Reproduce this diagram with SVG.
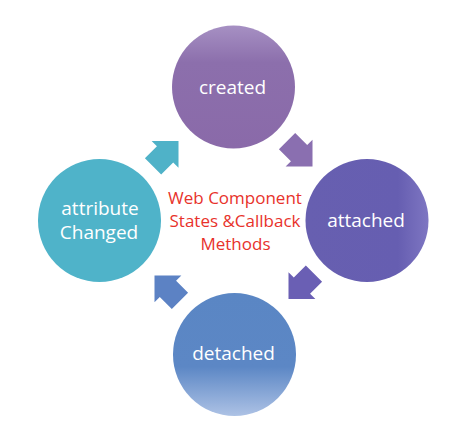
<svg xmlns="http://www.w3.org/2000/svg" width="460" height="428" viewBox="0 0 460 428">
<defs>
<linearGradient id="gCreated" x1="0" y1="0" x2="0" y2="1">
<stop offset="0" stop-color="#a690c3"/>
<stop offset="0.3" stop-color="#8c6fac"/>
<stop offset="1" stop-color="#8a6aa9"/>
</linearGradient>
<linearGradient id="gAttached" x1="0" y1="0" x2="1" y2="0">
<stop offset="0" stop-color="#675fb0"/>
<stop offset="0.75" stop-color="#665eb1"/>
<stop offset="1" stop-color="#7e76c2"/>
</linearGradient>
<linearGradient id="gDetached" x1="0" y1="0" x2="0" y2="1">
<stop offset="0" stop-color="#5a86c4"/>
<stop offset="0.6" stop-color="#5c87c5"/>
<stop offset="1" stop-color="#adc2e5"/>
</linearGradient>
<path id="arrow" d="M0,0 L-19,-19 L-19,-11.5 L-36,-11.5 L-36,11.5 L-19,11.5 L-19,19 Z"/>
</defs>
<style>
.node text{font-family:"Open Sans","DejaVu Sans",sans-serif;font-size:19px;fill:#ffffff;text-anchor:middle}
.title text{font-family:"Open Sans","DejaVu Sans",sans-serif;font-size:17px;fill:#e8322b;text-anchor:middle}
</style>
<rect width="460" height="428" fill="#ffffff"/>
<g id="connectors">
<use href="#arrow" fill="#4fb2c8" transform="translate(178.5,141) rotate(-45)"/>
<use href="#arrow" fill="#8a6fb0" transform="translate(312.5,166.5) rotate(45)"/>
<use href="#arrow" fill="#6a5fb4" transform="translate(288.5,299) rotate(135)"/>
<use href="#arrow" fill="#5c82c4" transform="translate(154.5,275.5) rotate(-135)"/>
</g>
<g id="created" class="node">
<circle cx="233.5" cy="87" r="61.5" fill="url(#gCreated)"/>
<text x="232.5" y="93.5">created</text>
</g>
<g id="attached" class="node">
<circle cx="367" cy="220.5" r="61.5" fill="url(#gAttached)"/>
<text x="366" y="227">attached</text>
</g>
<g id="detached" class="node">
<circle cx="234.5" cy="354.5" r="61.5" fill="url(#gDetached)"/>
<text x="233.5" y="359.5">detached</text>
</g>
<g id="attributeChanged" class="node">
<circle cx="99.5" cy="220.5" r="61.5" fill="#4fb3c9"/>
<text x="100" y="215">attribute</text>
<text x="99" y="238.5">Changed</text>
</g>
<g id="title" class="title">
<text x="235" y="203.5">Web Component</text>
<text x="235" y="227">States &amp;Callback</text>
<text x="235.5" y="250">Methods</text>
</g>
</svg>
